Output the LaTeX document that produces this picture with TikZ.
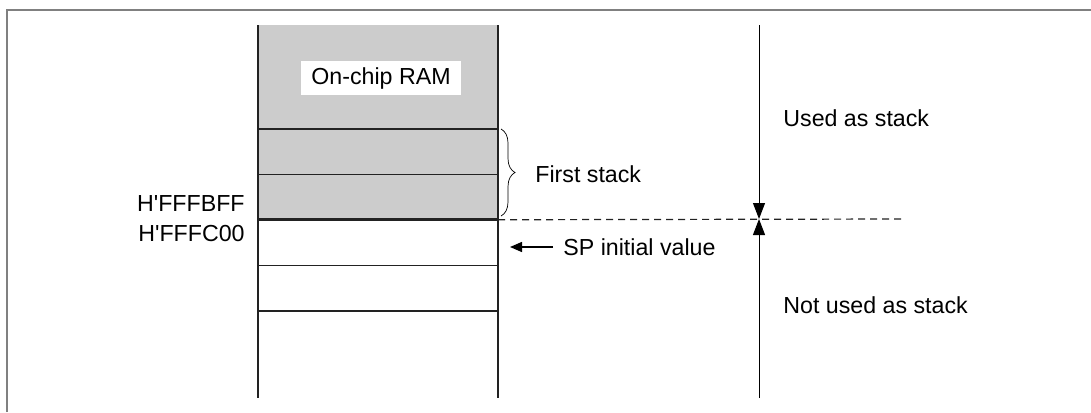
\documentclass[tikz,border=0pt]{standalone}
\usepackage{fontspec}
\setmainfont{Liberation Sans}
\usetikzlibrary{arrows.meta}
\usetikzlibrary{positioning}
\usetikzlibrary{decorations.pathreplacing}
\definecolor{ramgray}{HTML}{CCCCCC}
\definecolor{framegray}{HTML}{808080}
\definecolor{linegray}{HTML}{222222}
\tikzset{x = 0.5pt, y = -0.5pt,
  every node/.style = {font = \fontsize{11.6}{13}\selectfont},
  cell/.style = {draw = linegray, line width = 0.75pt, minimum width = 120pt,
    minimum height = 22.75pt, inner sep = 0pt, outer sep = 0pt},
  label/.style = {inner sep = 0pt},
  stackarrow/.style = {-{Triangle[width = 6pt, length = 8pt]}, line width = 0.5pt}}

\begin{document}
\begin{tikzpicture}
  \useasboundingbox (0,0) rectangle (1091,412);
  % frame
  \coordinate (frame-bl) at (7,412);
  \coordinate (frame-tl) at (7,10);
  \coordinate (frame-tr) at (1091,10);
  \draw [framegray, line width = 1pt] (frame-bl) -- (frame-tl) -- (frame-tr);
  % column
  \coordinate (col-tl) at (258,25);
  \coordinate (col-tr) at (498,25);
  \coordinate (col-bl) at (258,398);
  \coordinate (col-br) at (498,398);
  \fill [ramgray] (col-tl) rectangle (498,129);
  \node [fill = white, inner xsep = 5pt, minimum height = 17pt] (ram) at (381,78) {On-chip RAM};
  % cells
  \node [cell, fill = ramgray] (c1) at (378,151.5) {};
  \node [cell, fill = ramgray, below = 0pt of c1] (c2) {};
  \node [cell, below = 0pt of c2] (c3) {};
  \node [cell, below = 0pt of c3] (c4) {};
  \draw [linegray, line width = 1.3pt] (c2.south west) -- (c2.south east);
  \draw [linegray, line width = 0.7pt] (col-tl) -- (col-bl);
  \draw [linegray, line width = 0.7pt] (col-tr) -- (col-br);
  % addresses
  \node [label, anchor = east] (bff) at (245,204) {H\textquotesingle FFFBFF};
  \node [label, anchor = east] (c00) at (245,234) {H\textquotesingle FFFC00};
  % first stack
  \coordinate (brace-top) at (501,129);
  \coordinate (brace-bot) at (501,216);
  \draw [decorate, decoration = {brace, amplitude = 7pt}, line width = 0.35pt] (brace-top) -- (brace-bot);
  \node [label, anchor = west] (first) at (535,174) {First stack};
  % boundary
  \coordinate (dash-end) at (903,219);
  \draw [dashed, dash pattern = on 3.5pt off 2.5pt, linegray, line width = 0.6pt] (c2.south east) -- (dash-end);
  % used / not used
  \coordinate (used-top) at (759,25);
  \coordinate (used-mid) at (759,219);
  \coordinate (used-bot) at (759,398);
  \draw [stackarrow] (used-top) -- (used-mid);
  \draw [stackarrow] (used-bot) -- (used-mid);
  \node [label, anchor = west] (used) at (783,118) {Used as stack};
  \node [label, anchor = west] (notused) at (783,305) {Not used as stack};
  % SP
  \node [label, anchor = west] (sp) at (563,247) {SP initial value};
  \coordinate (sp-tip) at (510,247);
  \draw [-{Triangle[width = 5pt, length = 6pt]}, line width = 0.7pt] (sp.west) ++(-10,0) -- (sp-tip);
\end{tikzpicture}
\end{document}
